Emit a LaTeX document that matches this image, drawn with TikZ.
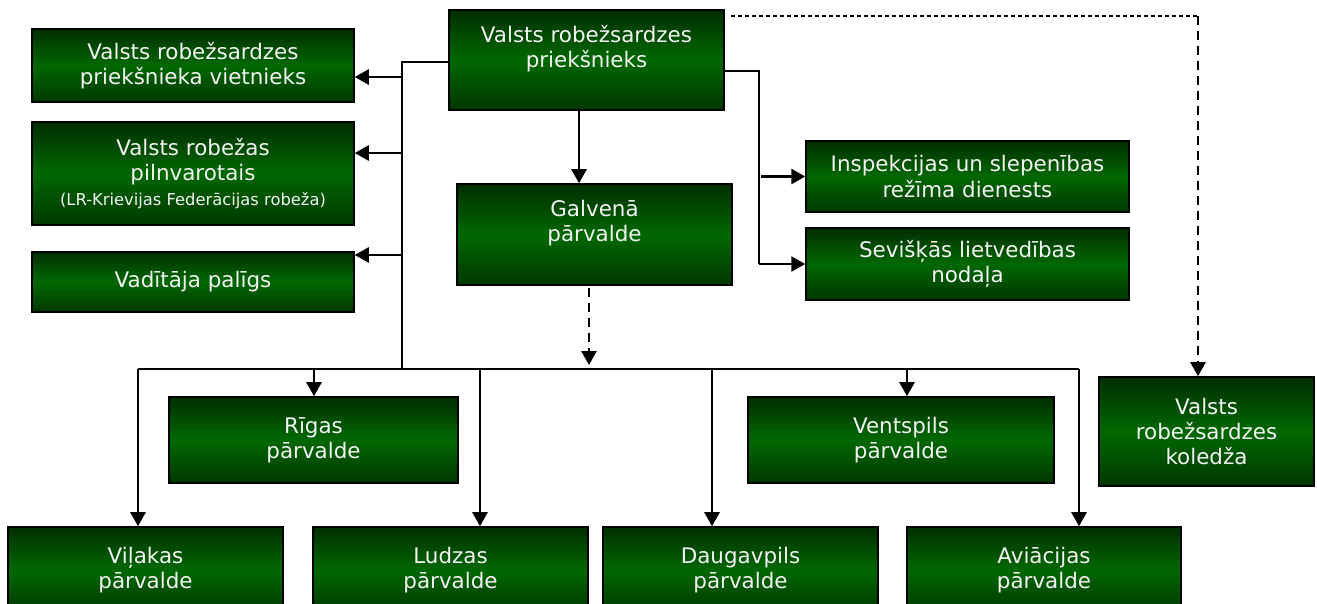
\documentclass[tikz,border=0pt]{standalone}
\usepackage{fontspec}
\setmainfont{DejaVu Sans}
\usetikzlibrary{arrows.meta,calc}
\definecolor{boxdark}{RGB}{0,46,0}
\definecolor{boxmid}{RGB}{0,104,0}
\definecolor{boxtext}{RGB}{244,244,244}
\newcommand{\subnote}[1]{{\fontsize{9.3}{11}\selectfont #1}}

\begin{document}
\begin{tikzpicture}[x=0.02cm, y=-0.02cm,
		orgbox/.style={draw=black, line width=0.9pt, top color=boxdark, bottom color=boxdark!85!boxmid, middle color=boxmid, text=boxtext, align=center, inner sep=0pt, font=\fontsize{12.2}{14.4}\selectfont},
		lifted/.style={text depth=0.55cm},
		wire/.style={line width=0.95pt},
		arr/.style={line width=1.5pt, -{Triangle[length=0.28cm, width=0.3cm]}},
		darr/.style={line width=1.5pt, dash pattern=on 0.18cm off 0.12cm, -{Triangle[length=0.28cm, width=0.3cm]}}]
			\useasboundingbox (0,0) rectangle (1317,603);
			\clip (0,0) rectangle (1317,603);
			% top level
			\node[orgbox, lifted, minimum width=5.5cm, minimum height=2cm] (chief) at (586.5, 60) {Valsts robežsardzes\\priekšnieks};
			\node[orgbox, minimum width=6.44cm, minimum height=1.46cm] (deputy) at (193, 65.5) {Valsts robežsardzes\\priekšnieka vietnieks};
			\node[orgbox, minimum width=6.44cm, minimum height=2.06cm] (plenipot) at (193, 173.5) {Valsts robežas\\pilnvarotais\\\subnote{(LR-Krievijas Federācijas robeža)}};
			\node[orgbox, minimum width=6.44cm, minimum height=1.2cm] (assistant) at (193, 282) {Vadītāja palīgs};
			\node[orgbox, lifted, minimum width=5.5cm, minimum height=2.02cm] (main) at (594.5, 234.5) {Galvenā\\pārvalde};
			\node[orgbox, minimum width=6.46cm, minimum height=1.42cm] (inspect) at (967.5, 176.5) {Inspekcijas un slepenības\\režīma dienests};
			\node[orgbox, minimum width=6.46cm, minimum height=1.44cm] (special) at (967.5, 264) {Sevišķās lietvedības\\nodaļa};
			\node[orgbox, minimum width=4.3cm, minimum height=2.18cm] (college) at (1206.5, 431.5) {Valsts\\robežsardzes\\koledža};
			% regional boards
			\node[orgbox, minimum width=5.78cm, minimum height=1.72cm] (riga) at (313.5, 440) {Rīgas\\pārvalde};
			\node[orgbox, minimum width=6.12cm, minimum height=1.72cm] (ventspils) at (901, 440) {Ventspils\\pārvalde};
			\node[orgbox, minimum width=5.5cm, minimum height=1.72cm] (vilaka) at (145.5, 570) {Viļakas\\pārvalde};
			\node[orgbox, minimum width=5.5cm, minimum height=1.72cm] (ludza) at (450.5, 570) {Ludzas\\pārvalde};
			\node[orgbox, minimum width=5.5cm, minimum height=1.72cm] (daugavpils) at (740.5, 570) {Daugavpils\\pārvalde};
			\node[orgbox, minimum width=5.48cm, minimum height=1.72cm] (aviation) at (1044, 570) {Aviācijas\\pārvalde};
			\coordinate (ltop) at (402, 62);
			\coordinate (rtop) at (759, 71);
			\coordinate (dtop) at (1198, 16);
			\coordinate (busl) at (138, 369);
			\coordinate (busr) at (1079, 369);
			% connectors
			\draw[arr] ([xshift=-0.15cm]chief.south) -- ([xshift=-0.15cm]chief.south |- main.north);
			\draw[wire] (ltop -| chief.west) -- (ltop) -- (ltop |- busl);
			\foreach \y/\n in {77/deputy, 153/plenipot, 255/assistant}
				\draw[arr] (402, \y) -- (\n.east |- 402, \y);
			\draw[wire] (rtop -| chief.east) -- (rtop) -- (rtop |- special.west);
			\draw[arr] (rtop |- special.west) -- (special.west);
			\draw[arr] ([xshift=0.04cm]rtop |- inspect.west) -- (inspect.west);
			\draw[line width=0.75pt, dash pattern=on 0.08cm off 0.06cm] ([xshift=0.12cm]dtop -| chief.east) -- (dtop);
			\draw[darr] (dtop) -- (dtop |- college.north);
			\draw[darr] ([xshift=-0.11cm, yshift=-0.05cm]main.south) -- ([xshift=-0.11cm, yshift=0.08cm]main.south |- busl);
			\draw[wire] (busl) -- (busr);
			\foreach \x/\n in {138/vilaka, 314/riga, 480/ludza, 712/daugavpils, 907/ventspils, 1079/aviation}
				\draw[arr] (\x, 369) -- (\n.north -| \x, 369);
		\end{tikzpicture}
\end{document}
